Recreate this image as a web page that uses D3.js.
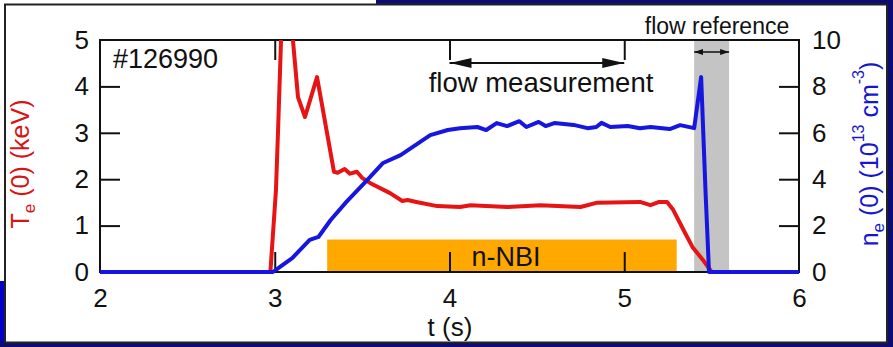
<!DOCTYPE html>
<html lang="en">
<head>
<meta charset="utf-8">
<title>Te and ne, shot 126990</title>
<script src="https://d3js.org/d3.v7.min.js"></script>
<style>
  body { margin: 0; background: #fff; }
  svg text { font-family: "Liberation Sans", Arial, sans-serif; }
</style>
</head>
<body>
<div id="chart"></div>
<script>
  // central electron temperature Te(0), keV
  var tTe = [2.0, 2.975, 3.007, 3.019, 3.036, 3.07, 3.104, 3.133, 3.173, 3.242, 3.339, 3.36, 3.40, 3.43,
             3.47, 3.50, 3.545, 3.66, 3.73, 3.76, 3.81, 3.93, 4.06, 4.12, 4.33, 4.52, 4.75, 4.84,
             5.09, 5.15, 5.20, 5.245, 5.28, 5.34, 5.39, 5.45, 5.50, 6.0];
  var te  = [0, 0, 1.77, 3.06, 5.0, 6.5, 5.0, 3.77, 3.34, 4.2, 2.16, 2.14, 2.22, 2.12,
             2.16, 2.03, 1.92, 1.70, 1.53, 1.55, 1.51, 1.42, 1.40, 1.44, 1.40, 1.44, 1.40, 1.49,
             1.51, 1.44, 1.51, 1.51, 1.34, 0.9, 0.54, 0.26, 0, 0];

  // central electron density ne(0), 10^13 cm^-3
  var tNe = [2.0, 2.99, 3.03, 3.10, 3.20, 3.25, 3.32, 3.41, 3.53, 3.62, 3.72, 3.79, 3.89, 3.99,
             4.06, 4.16, 4.21, 4.27, 4.33, 4.40, 4.44, 4.51, 4.55, 4.60, 4.71, 4.79, 4.84, 4.87,
             4.92, 5.02, 5.09, 5.15, 5.26, 5.32, 5.40, 5.44, 5.465, 5.485, 6.0];
  var ne  = [0, 0, 0.22, 0.6, 1.38, 1.51, 2.24, 3.02, 3.97, 4.7, 5.04, 5.39, 5.9, 6.12,
             6.2, 6.25, 6.12, 6.42, 6.29, 6.5, 6.25, 6.47, 6.29, 6.42, 6.34, 6.2, 6.25, 6.43,
             6.25, 6.29, 6.2, 6.25, 6.16, 6.33, 6.2, 8.4, 3.5, 0, 0];

  var xTicks = [2, 3, 4, 5, 6];
  var teTicks = [0, 1, 2, 3, 4, 5];
  var neTicks = [0, 2, 4, 6, 8, 10];

  var nbiOn = [3.3, 5.3];       // n-NBI window, s
  var nbiLevel = 0.7;           // bar height on the Te scale
  var flowMeas = [4, 5];        // flow measurement window, s
  var flowRef = [5.4, 5.6];     // flow reference window, s

  var W = 893, H = 347;
  var m = {l: 100, r: 799, t: 40, b: 272};
  var tickLen = 20;

  var svg = d3.select('#chart').append('svg')
      .attr('width', W).attr('height', H);

  // slide background around the white panel
  svg.append('rect').attr('x', 376).attr('y', 0).attr('width', W - 376).attr('height', 6).attr('fill', '#0c0c72');
  svg.append('rect').attr('x', 886).attr('y', 0).attr('width', 7).attr('height', H).attr('fill', '#0c0c72');
  svg.append('rect').attr('x', 0).attr('y', 281).attr('width', 7).attr('height', H - 281).attr('fill', '#0000c8');
  svg.append('rect').attr('x', 0).attr('y', 341).attr('width', W).attr('height', 6).attr('fill', '#0c0c72');
  svg.append('rect').attr('x', 5).attr('y', 4.5).attr('width', 882).attr('height', 338)
      .attr('fill', '#fff').attr('stroke', '#222').attr('stroke-width', 2);

  var x = d3.scaleLinear().domain([2, 6]).range([m.l, m.r]);
  var yT = d3.scaleLinear().domain([0, 5]).range([m.b, m.t]);
  var yN = d3.scaleLinear().domain([0, 10]).range([m.b, m.t]);

  var defs = svg.append('defs');
  defs.append('clipPath').attr('id', 'plotclip').append('rect')
      .attr('x', m.l - 5).attr('y', m.t).attr('width', m.r - m.l + 10).attr('height', H - m.t);

  function arrowHead(id, len, half) {
    defs.append('marker').attr('id', id)
        .attr('viewBox', '0 0 ' + len + ' ' + (half * 2))
        .attr('refX', len).attr('refY', half)
        .attr('markerWidth', len).attr('markerHeight', half * 2)
        .attr('markerUnits', 'userSpaceOnUse')
        .attr('orient', 'auto-start-reverse')
      .append('path')
        .attr('d', 'M0,0L' + len + ',' + half + 'L0,' + (half * 2) + 'Z')
        .attr('fill', '#111');
  }
  arrowHead('headBig', 22, 5);
  arrowHead('headSmall', 9, 3);

  // flow reference window
  svg.append('rect')
      .attr('x', x(flowRef[0])).attr('y', m.t)
      .attr('width', x(flowRef[1]) - x(flowRef[0])).attr('height', m.b - m.t)
      .attr('fill', '#c4c4c4');

  // n-NBI bar
  svg.append('rect')
      .attr('x', x(nbiOn[0])).attr('y', yT(nbiLevel))
      .attr('width', x(nbiOn[1]) - x(nbiOn[0])).attr('height', yT(0) - yT(nbiLevel))
      .attr('fill', '#ffa800');
  svg.append('text')
      .attr('x', 506).attr('y', 266)
      .attr('text-anchor', 'middle').style('font-size', '27px').attr('fill', '#111')
      .text('n-NBI');

  // frame
  svg.append('rect').attr('x', m.l).attr('y', m.t)
      .attr('width', m.r - m.l).attr('height', m.b - m.t)
      .attr('fill', 'none').attr('stroke', '#111').attr('stroke-width', 2);

  // inward ticks on all four sides
  function ticksOnly(axis, tx, ty, vals) {
    var g = svg.append('g').attr('transform', 'translate(' + tx + ',' + ty + ')')
        .call(axis.tickValues(vals).tickSize(-tickLen).tickFormat(''));
    g.select('.domain').remove();
    g.selectAll('line').attr('stroke', '#111').attr('stroke-width', 2);
  }
  ticksOnly(d3.axisBottom(x), 0, m.b, [3, 4, 5]);
  ticksOnly(d3.axisTop(x), 0, m.t, [3, 4, 5]);
  ticksOnly(d3.axisLeft(yT), m.l, 0, [1, 2, 3, 4]);
  ticksOnly(d3.axisRight(yN), m.r, 0, [2, 4, 6, 8]);

  // tick labels
  function labels(axis, tx, ty, vals, pad) {
    var g = svg.append('g').attr('transform', 'translate(' + tx + ',' + ty + ')')
        .call(axis.tickValues(vals).tickSize(0).tickPadding(pad).tickFormat(d3.format('d')));
    g.select('.domain').remove();
    g.attr('font-family', null).attr('font-size', null);
    g.selectAll('text').style('font-size', '26px').attr('fill', '#111');
  }
  labels(d3.axisBottom(x), 0, m.b, xTicks, 17);
  labels(d3.axisLeft(yT), m.l, 0, teTicks, 11);
  labels(d3.axisRight(yN), m.r, 0, neTicks, 13);

  // traces
  var plot = svg.append('g').attr('clip-path', 'url(#plotclip)');
  var lineTe = d3.line().x(function(d) { return x(d[0]); }).y(function(d) { return yT(d[1]); });
  var lineNe = d3.line().x(function(d) { return x(d[0]); }).y(function(d) { return yN(d[1]); });

  plot.append('path').datum(d3.zip(tTe, te)).attr('d', lineTe)
      .attr('fill', 'none').attr('stroke', '#e61414').attr('stroke-width', 4)
      .attr('stroke-linejoin', 'round');
  plot.append('path').datum(d3.zip(tNe, ne)).attr('d', lineNe)
      .attr('fill', 'none').attr('stroke', '#1616e0').attr('stroke-width', 4)
      .attr('stroke-linejoin', 'round');

  // flow measurement bracket
  svg.append('line')
      .attr('x1', x(flowMeas[0])).attr('x2', x(flowMeas[1])).attr('y1', 63).attr('y2', 63)
      .attr('stroke', '#111').attr('stroke-width', 2)
      .attr('marker-start', 'url(#headBig)').attr('marker-end', 'url(#headBig)');
  svg.append('text')
      .attr('x', 541).attr('y', 92)
      .attr('text-anchor', 'middle').style('font-size', '27.5px').attr('fill', '#111')
      .text('flow measurement');

  // flow reference bracket
  svg.append('line')
      .attr('x1', x(flowRef[0])).attr('x2', x(flowRef[1])).attr('y1', 52).attr('y2', 52)
      .attr('stroke', '#111').attr('stroke-width', 1.5)
      .attr('marker-start', 'url(#headSmall)').attr('marker-end', 'url(#headSmall)');
  svg.append('text')
      .attr('x', 717).attr('y', 34)
      .attr('text-anchor', 'middle').style('font-size', '23px').attr('fill', '#111')
      .text('flow reference');

  svg.append('text').attr('x', 113).attr('y', 68)
      .style('font-size', '27px').attr('fill', '#111').text('#126990');

  svg.append('text').attr('x', 450).attr('y', 336)
      .attr('text-anchor', 'middle').style('font-size', '26px').attr('fill', '#111').text('t (s)');

  // axis titles
  var teLab = svg.append('text')
      .attr('transform', 'translate(29,164) rotate(-90)')
      .attr('text-anchor', 'middle').style('font-size', '25px').attr('fill', '#d81414');
  teLab.append('tspan').text('T');
  teLab.append('tspan').attr('dy', 6).style('font-size', '17px').text('e');
  teLab.append('tspan').attr('dy', -6).text(' (0) (keV)');

  var neLab = svg.append('text')
      .attr('transform', 'translate(878,154) rotate(-90)')
      .attr('text-anchor', 'middle').style('font-size', '25px').attr('fill', '#1616d0');
  neLab.append('tspan').text('n');
  neLab.append('tspan').attr('dy', 6).style('font-size', '17px').text('e');
  neLab.append('tspan').attr('dy', -6).text(' (0) (10');
  neLab.append('tspan').attr('dy', -14).style('font-size', '16px').text('13');
  neLab.append('tspan').attr('dy', 14).text(' cm');
  neLab.append('tspan').attr('dy', -14).style('font-size', '16px').text('-3');
  neLab.append('tspan').attr('dy', 14).text(')');
</script>
</body>
</html>
